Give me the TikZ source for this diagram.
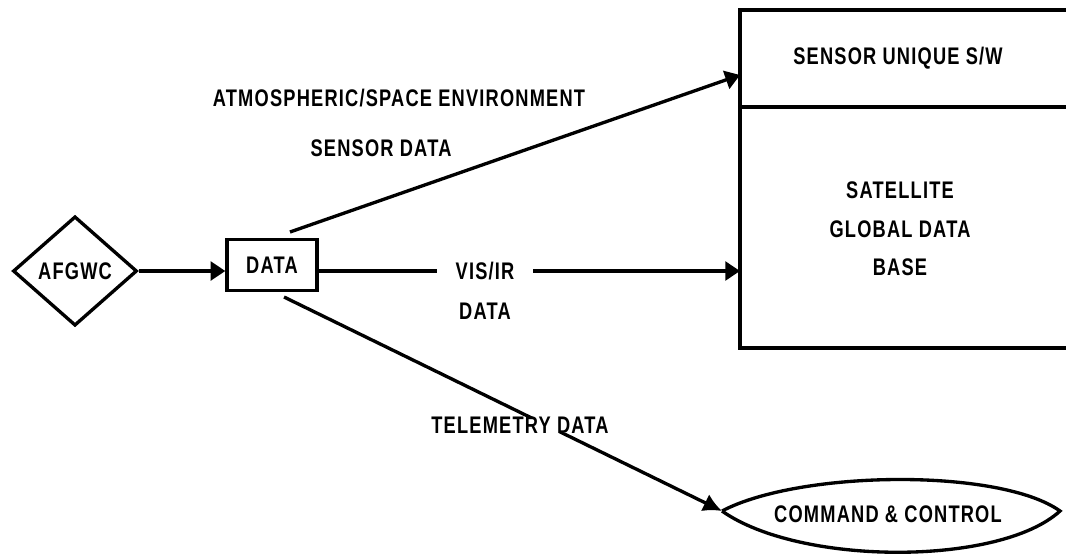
\documentclass[tikz,border=0pt]{standalone}
\usepackage{fontspec}
\setmainfont{Liberation Sans}[FakeStretch=0.76,LetterSpace=5]
\usetikzlibrary{shapes.geometric,arrows.meta}
\begin{document}
\begin{tikzpicture}[x=0.75pt,y=-0.75pt, line width=2.5pt,
  lbl/.style={font=\fontsize{18}{29}\selectfont\bfseries, inner sep=1pt, align=center},
  conn/.style={-{Triangle[length=11pt,width=14pt]}},
  conn2/.style={-{Latex[length=14pt,width=14pt]}},
]
\useasboundingbox (0,0) rectangle (1066,554);
% AFGWC diamond
\node[draw, diamond, lbl, minimum width=93pt, minimum height=82pt, inner sep=0pt] (afgwc) at (75,271) {AFGWC};
% DATA box
\node[draw, lbl, minimum width=67.5pt, minimum height=38pt] (data) at (272,265) {DATA};
% big box (open on the right)
\coordinate (tl) at (740,10);
\coordinate (bl) at (740,348);
\draw (1075,10) -- (tl) -- (bl) -- (1075,348);
\draw (740,107) -- (1075,107);
\node[lbl] (sw) at (898,58) {SENSOR UNIQUE S/W};
\node[lbl] (sgdb) at (900,229) {SATELLITE\\GLOBAL DATA\\BASE};
\coordinate (in1) at (740,75);
\coordinate (in2) at (740,271);
% command & control lens
\node[lbl] (cc) at (888,514) {COMMAND \& CONTROL};
\coordinate (ccl) at (722,511);
\coordinate (ccr) at (1060,511);
\draw (ccl) .. controls (800,470) and (1000,468) .. (ccr) .. controls (1000,566) and (800,566) .. (ccl);
% connectors
\draw[conn] (afgwc.east) -- (afgwc.east -| data.west);
\coordinate (s1) at (290,232);
\draw[conn] (s1) -- (in1);
\node[lbl] (atm) at (399,98) {ATMOSPHERIC/SPACE ENVIRONMENT};
\node[lbl] (sd) at (381,148) {SENSOR DATA};
\node[lbl, inner xsep=13pt] (visir) at (485,271) {VIS/IR};
\node[lbl] (visdata) at (485,311) {DATA};
\draw (data.east |- in2) -- (visir.west);
\draw[conn] (visir.east) -- (in2);
\coordinate (s3) at (284,297);
\draw[conn2] (s3) -- (ccl);
\node[lbl, fill=white, inner sep=0pt] (tel) at (520,425) {TELEMETRY DATA};
\end{tikzpicture}
\end{document}
